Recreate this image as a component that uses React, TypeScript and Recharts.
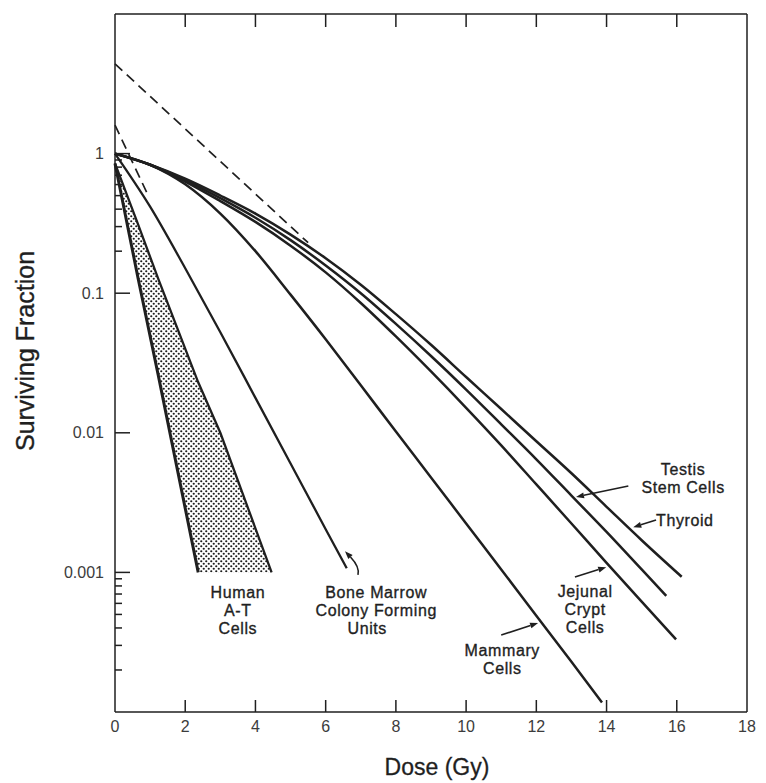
import React from 'react'
import { ComposedChart, Line, Area, XAxis, YAxis, ReferenceDot, ReferenceLine } from 'recharts'

// axes
const doseTicks = [0, 2, 4, 6, 8, 10, 12, 14, 16, 18]
const innerDoseTicks = [2, 4, 6, 8, 10, 12, 14, 16]
const majorFractions = [0.001, 0.01, 0.1, 1]
const fractionLabels = ['0.001', '0.01', '0.1', '1']
const minorFractions = [
  0.0002, 0.0003, 0.0004, 0.0005, 0.0006, 0.0007, 0.0008, 0.0009,
  0.2, 0.3, 0.4, 0.5, 0.6, 0.7, 0.8, 0.9,
]
const fractionTicks = [...minorFractions, ...majorFractions].sort((a, b) => a - b)

// survival curves
const thyroidDose = [0, 1, 2, 3, 4, 5, 6, 7, 8, 9, 10, 11, 12, 13, 14, 15, 16.14]
const thyroidFraction = [1, 0.832, 0.661, 0.501, 0.372, 0.263, 0.178, 0.115, 0.0708, 0.0427, 0.0251, 0.0148, 0.0087, 0.00513, 0.00295, 0.0017, 0.00093]

const testisDose = [0, 1, 2, 3, 4, 5, 6, 7, 8, 9, 10, 11, 12, 13, 14, 15, 15.7]
const testisFraction = [1, 0.832, 0.646, 0.479, 0.347, 0.24, 0.158, 0.1, 0.0603, 0.0355, 0.0204, 0.0115, 0.00646, 0.00355, 0.00195, 0.00105, 0.00068]

const jejunalDose = [0, 1, 2, 3, 4, 5, 6, 7, 8, 9, 10, 11, 12, 13, 14, 15, 15.98]
const jejunalFraction = [1, 0.832, 0.631, 0.457, 0.324, 0.219, 0.141, 0.0851, 0.049, 0.0275, 0.0151, 0.00813, 0.00427, 0.00224, 0.00117, 0.000617, 0.000331]

const mammaryDose = [0, 1, 2, 3, 4, 5, 6, 7, 8, 9, 10, 11, 12, 13, 13.87]
const mammaryFraction = [1, 0.832, 0.603, 0.372, 0.2, 0.0977, 0.0468, 0.0219, 0.0102, 0.00479, 0.00224, 0.00105, 0.00049, 0.000229, 0.000117]

const marrowDose = [0, 1, 2, 3, 4, 5, 6, 6.6]
const marrowFraction = [1, 0.417, 0.151, 0.0525, 0.0178, 0.00603, 0.00204, 0.00107]

// Human A-T cells band: steep edge (low) and shallow edge (high)
const atDose = [0, 0.66, 1.23, 2.37, 3.0, 4.46]
const atLow = [0.85, 0.127, 0.026, 0.001, 0.001, 0.001]
const atHigh = [0.85, 0.31, 0.127, 0.023, 0.01, 0.001]

// extrapolation lines
const shoulderDose = [0, 5.5]
const shoulderFraction = [4.4, 0.23]
const steepDose = [0, 0.9]
const steepFraction = [1.6, 0.53]

// labels and arrows
const notes = [
  { lines: ['Human', 'A-T', 'Cells'], dose: 3.5, fraction: 0.00054, shift: [0, 0, 0] },
  { lines: ['Bone Marrow', 'Colony Forming', 'Units'], dose: 7.44, fraction: 0.00054, shift: [0, 0, -9] },
  { lines: ['Mammary', 'Cells'], dose: 11.03, fraction: 0.00024, shift: [0, 0] },
  { lines: ['Jejunal', 'Crypt', 'Cells'], dose: 13.39, fraction: 0.000547, shift: [0, 0, 0] },
  { lines: ['Testis', 'Stem Cells'], dose: 16.18, fraction: 0.00478, shift: [0, 0] },
]
const thyroidNote = { text: 'Thyroid', dose: 15.41, fraction: 0.00237 }
const arrows = [
  { from: [6.92, 0.00096], to: [6.55, 0.00142], bend: 1 },
  { from: [11.0, 0.000356], to: [12.05, 0.000434], bend: 0 },
  { from: [13.1, 0.000927], to: [13.99, 0.00109], bend: 0 },
  { from: [14.62, 0.00416], to: [13.13, 0.00347], bend: 0 },
  { from: [15.41, 0.00237], to: [14.76, 0.00211], bend: 0 },
]

const toPoints = (dose: number[], fraction: number[]) =>
  dose.map((d, i) => ({ dose: d, fraction: fraction[i] }))

const bandRows = atDose.map((d, i) => ({ dose: d, band: [atLow[i], atHigh[i]] }))
const atSteep = toPoints(atDose.slice(0, 4), atLow.slice(0, 4))
const atShallow = toPoints(atDose, atHigh)

const FONT = '"Liberation Sans", Arial, Helvetica, sans-serif'
const INK = '#1f1f1f'
const TICK_INK = '#3c3c3c'

function BottomTick({ x, y, payload }: any) {
  const inner = innerDoseTicks.includes(payload.value)
  return (
    <g>
      {inner && <line x1={x} x2={x} y1={y} y2={y - 12} stroke={INK} strokeWidth={1.5} />}
      <text x={x} y={y + 20} textAnchor="middle" fontFamily={FONT} fontSize={16} fill={TICK_INK}>
        {payload.value}
      </text>
    </g>
  )
}

function TopTick({ x, y }: any) {
  return <line x1={x} x2={x} y1={y} y2={y + 13} stroke={INK} strokeWidth={1.5} />
}

function LeftTick({ x, y, payload }: any) {
  const i = majorFractions.indexOf(payload.value)
  return (
    <g>
      <line x1={x} x2={x + (i >= 0 ? 15 : 7)} y1={y} y2={y} stroke={INK} strokeWidth={1.5} />
      {i >= 0 && (
        <text x={x - 11} y={y} dy={5.5} textAnchor="end" fontFamily={FONT} fontSize={16} fill={TICK_INK}>
          {fractionLabels[i]}
        </text>
      )}
    </g>
  )
}

function RightTick({ x, y, payload }: any) {
  const major = majorFractions.includes(payload.value)
  return <line x1={x} x2={x - (major ? 14 : 7)} y1={y} y2={y} stroke={INK} strokeWidth={1.5} />
}

const noteText = {
  fontFamily: FONT,
  fontSize: 16,
  letterSpacing: 0.6,
  fill: INK,
  stroke: INK,
  strokeWidth: 0.35,
}

const noteShape = (lines: string[], shift: number[]) => (p: any) => (
  <g>
    {lines.map((t, i) => (
      <text
        key={t}
        x={p.cx + shift[i]}
        y={p.cy + (i - (lines.length - 1) / 2) * 18}
        dy={6}
        textAnchor="middle"
        {...noteText}
      >
        {t}
      </text>
    ))}
  </g>
)

const thyroidShape = (p: any) => (
  <text x={p.cx} y={p.cy} dy={6} {...noteText}>
    {thyroidNote.text}
  </text>
)

const arrowShape = (bend: number) => (p: any) => {
  const { x1, y1, x2, y2 } = p
  const cx = bend ? Math.max(x1, x2) + 2 : (x1 + x2) / 2
  const cy = bend ? (y1 + y2) / 2 + 4 : (y1 + y2) / 2
  const a = Math.atan2(y2 - cy, x2 - cx)
  const len = 8
  const w = 3
  const bx = x2 - len * Math.cos(a)
  const by = y2 - len * Math.sin(a)
  return (
    <g>
      <path d={`M${x1},${y1} Q${cx},${cy} ${bx},${by}`} fill="none" stroke={INK} strokeWidth={1.6} />
      <polygon
        points={`${x2},${y2} ${bx + w * Math.sin(a)},${by - w * Math.cos(a)} ${bx - w * Math.sin(a)},${by + w * Math.cos(a)}`}
        fill={INK}
      />
    </g>
  )
}

const curve = { type: 'monotone' as const, stroke: INK, dot: false, isAnimationActive: false }

export default function App() {
  return (
    <div style={{ position: 'absolute', left: 0, top: 0, width: 766, height: 783, background: '#fff' }}>
      <ComposedChart width={766} height={783} data={bandRows} margin={{ top: 13, right: 18, bottom: 0, left: 0 }}>
        <defs>
          <pattern id="stipple" width="5" height="5" patternUnits="userSpaceOnUse">
            <circle cx="1.25" cy="1.25" r="1.1" fill="#1c1c1c" />
            <circle cx="3.75" cy="3.75" r="1.1" fill="#1c1c1c" />
          </pattern>
        </defs>
        <XAxis
          dataKey="dose"
          type="number"
          domain={[0, 18]}
          ticks={doseTicks}
          interval={0}
          height={71}
          tickSize={0}
          tickMargin={0}
          tickLine={false}
          tick={<BottomTick />}
          axisLine={{ stroke: INK, strokeWidth: 1.5 }}
          label={{
            content: (p: any) => (
              <text
                x={p.viewBox.x + p.viewBox.width / 2 + 6}
                y={p.viewBox.y + 63}
                textAnchor="middle"
                fontFamily={FONT}
                fontSize={23}
                fill={INK}
                stroke={INK}
                strokeWidth={0.3}
              >
                Dose (Gy)
              </text>
            ),
          }}
        />
        <XAxis
          xAxisId="top"
          orientation="top"
          dataKey="dose"
          type="number"
          domain={[0, 18]}
          ticks={innerDoseTicks}
          interval={0}
          height={1}
          tickSize={0}
          tickMargin={0}
          tickLine={false}
          tick={<TopTick />}
          axisLine={{ stroke: INK, strokeWidth: 1.5 }}
        />
        <YAxis
          type="number"
          scale="log"
          domain={[0.0001, 10]}
          ticks={fractionTicks}
          interval={0}
          width={115}
          tickSize={0}
          tickMargin={0}
          tickLine={false}
          tick={<LeftTick />}
          axisLine={{ stroke: INK, strokeWidth: 1.5 }}
          label={{
            content: (p: any) => {
              const cx = p.viewBox.x + 25
              const cy = p.viewBox.y + p.viewBox.height / 2 - 12
              return (
                <text
                  x={cx}
                  y={cy}
                  transform={`rotate(-90 ${cx} ${cy})`}
                  textAnchor="middle"
                  dominantBaseline="central"
                  fontFamily={FONT}
                  fontSize={25}
                  fill={INK}
                  stroke={INK}
                  strokeWidth={0.35}
                >
                  Surviving Fraction
                </text>
              )
            },
          }}
        />
        <YAxis
          yAxisId="right"
          orientation="right"
          type="number"
          scale="log"
          domain={[0.0001, 10]}
          ticks={fractionTicks.filter((v) => v < 10)}
          interval={0}
          width={1}
          tickSize={0}
          tickMargin={0}
          tickLine={false}
          tick={<RightTick />}
          axisLine={{ stroke: INK, strokeWidth: 1.5 }}
        />

        <Area dataKey="band" type="linear" fill="url(#stipple)" fillOpacity={1} stroke="none" isAnimationActive={false} />
        <Line data={atSteep} dataKey="fraction" type="linear" stroke={INK} strokeWidth={3} dot={false} isAnimationActive={false} />
        <Line data={atShallow} dataKey="fraction" type="linear" stroke={INK} strokeWidth={2.3} dot={false} isAnimationActive={false} />

        <Line data={toPoints(marrowDose, marrowFraction)} dataKey="fraction" strokeWidth={2.3} {...curve} />
        <Line data={toPoints(mammaryDose, mammaryFraction)} dataKey="fraction" strokeWidth={2.5} {...curve} />
        <Line data={toPoints(jejunalDose, jejunalFraction)} dataKey="fraction" strokeWidth={2.5} {...curve} />
        <Line data={toPoints(testisDose, testisFraction)} dataKey="fraction" strokeWidth={2.5} {...curve} />
        <Line data={toPoints(thyroidDose, thyroidFraction)} dataKey="fraction" strokeWidth={2.5} {...curve} />

        <Line data={toPoints(shoulderDose, shoulderFraction)} dataKey="fraction" type="linear" stroke={INK} strokeWidth={1.7} strokeDasharray="10 6" dot={false} isAnimationActive={false} />
        <Line data={toPoints(steepDose, steepFraction)} dataKey="fraction" type="linear" stroke={INK} strokeWidth={1.7} strokeDasharray="10 6" dot={false} isAnimationActive={false} />

        {notes.map((n) => (
          <ReferenceDot key={n.lines[0]} x={n.dose} y={n.fraction} r={0} shape={noteShape(n.lines, n.shift)} />
        ))}
        <ReferenceDot x={thyroidNote.dose} y={thyroidNote.fraction} r={0} shape={thyroidShape} />
        {arrows.map((a, i) => (
          <ReferenceLine
            key={i}
            segment={[{ x: a.from[0], y: a.from[1] }, { x: a.to[0], y: a.to[1] }]}
            shape={arrowShape(a.bend)}
          />
        ))}
      </ComposedChart>
    </div>
  )
}
